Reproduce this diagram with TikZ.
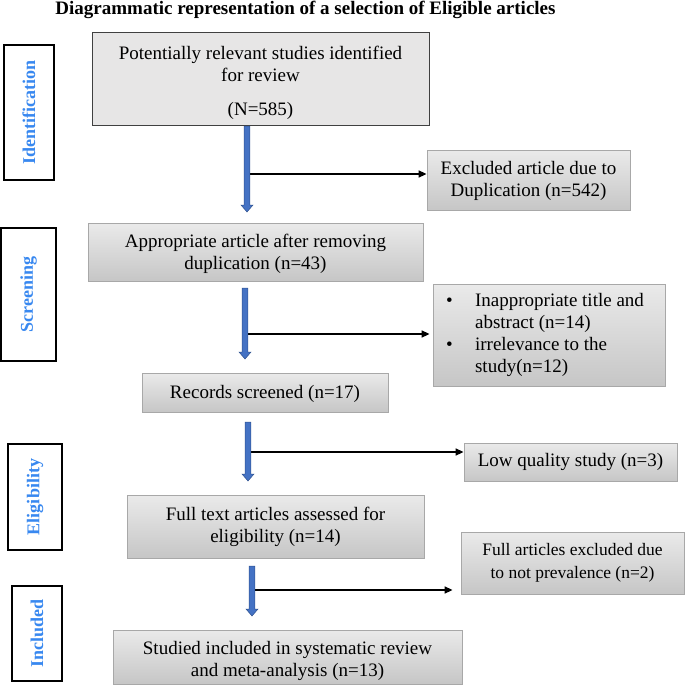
\documentclass[tikz,border=0pt]{standalone}
\usepackage{fontspec}
\setmainfont{Liberation Serif}
\usetikzlibrary{arrows.meta,calc}
\definecolor{boxtop}{RGB}{234,234,234}
\definecolor{boxbot}{RGB}{198,198,198}
\definecolor{boxedge}{RGB}{168,168,168}
\definecolor{topfill}{RGB}{231,230,230}
\definecolor{labelblue}{RGB}{56,136,240}
\definecolor{arrowblue}{RGB}{68,114,196}
\definecolor{arrowedge}{RGB}{47,82,143}
\newcommand\flowarrow[2]{\filldraw[fill=arrowblue,draw=arrowedge,line width=0.5pt]
  ($(#1)+(-2.8,0)$) -- ($(#2)+(-2.8,-7)$) -- ($(#2)+(-6,-7)$) -- (#2) --
  ($(#2)+(6,-7)$) -- ($(#2)+(2.8,-7)$) -- ($(#1)+(2.8,0)$) -- cycle;}
\tikzset{
  flowbox/.style={draw=boxedge, line width=0.8pt, top color=boxtop, bottom color=boxbot,
    inner sep=0pt, align=center, font=\fontsize{19}{22}\selectfont},
  topbox/.style={draw=black!75, line width=1pt, fill=topfill,
    inner sep=0pt, align=center, font=\fontsize{19}{22}\selectfont},
  sidebox/.style={draw=black, line width=1.5pt, fill=white, inner sep=0pt, rotate=90,
    text=labelblue, font=\bfseries\fontsize{18}{20}\selectfont},
  branch/.style={line width=1.5pt, -{Triangle[length=8pt,width=7pt]}}
}
\begin{document}
\begin{tikzpicture}[x=1pt,y=-1pt]
\useasboundingbox (0,0) rectangle (685,685);
% title
\node[font=\bfseries\fontsize{19}{22}\selectfont, anchor=base, inner sep=0pt] (title) at (305.5,14.5)
  {Diagrammatic representation of a selection of Eligible articles};
% side labels
\node[sidebox, minimum width=135pt, minimum height=50pt] (ident) at (29,112.5) {Identification};
\node[sidebox, minimum width=133pt, minimum height=55pt] (screen) at (28.5,294.5) {Screening};
\node[sidebox, minimum width=106pt, minimum height=54pt] (elig) at (35,497) {Eligibility};
\node[sidebox, minimum width=95pt, minimum height=50pt] (incl) at (37,633.5) {Included};
% main boxes
\node[topbox, minimum width=337pt, minimum height=92pt] (top) at (260.5,79)
  {\rule{0pt}{21pt}Potentially relevant studies identified\\for review\\[12pt](N=585)};
\node[flowbox, minimum width=203pt, minimum height=60pt] (excl) at (528.5,180)
  {\rule{0pt}{16pt}Excluded article due to\\Duplication (n=542)};
\node[flowbox, minimum width=335pt, minimum height=58pt] (app) at (255.5,252)
  {\rule{0pt}{17pt}Appropriate article after removing\\duplication (n=43)};
\node[flowbox, minimum width=232pt, minimum height=102pt] (bul) at (549,335)
  {\rule{0pt}{19pt}\begin{tabular}{@{}p{29pt}@{}l@{}}
   \textbullet & Inappropriate title and\\
               & abstract (n=14)\\
   \textbullet & irrelevance to the\\
               & study(n=12)
   \end{tabular}\hspace*{8pt}};
\node[flowbox, minimum width=246pt, minimum height=39pt] (rec) at (265,392.5)
  {\rule{0pt}{17pt}Records screened (n=17)};
\node[flowbox, minimum width=213pt, minimum height=38pt] (low) at (570.5,462)
  {Low quality study (n=3)};
\node[flowbox, minimum width=297pt, minimum height=63pt] (full) at (275.5,526.5)
  {Full text articles assessed for\\eligibility (n=14)};
\node[flowbox, minimum width=223pt, minimum height=62pt, font=\fontsize{17.5}{23}\selectfont] (fex) at (572.5,563)
  {Full articles excluded due\\to not prevalence (n=2)};
\node[flowbox, minimum width=349pt, minimum height=54pt] (stu) at (287.5,657)
  {\rule{0pt}{21pt}Studied included in systematic review\\and meta-analysis (n=13)};
% blue flow arrows
\coordinate (s1) at (247,126); \coordinate (e1) at (247,212);
\coordinate (s2) at (245,288); \coordinate (e2) at (245,359);
\coordinate (s3) at (248,422); \coordinate (e3) at (248,481);
\coordinate (s4) at (252,566); \coordinate (e4) at (252,616);
% branch start points
\coordinate (b1) at (245,174);
\coordinate (b2) at (248,334);
\coordinate (b3) at (248,452);
\coordinate (b4) at (252,590);
\draw[branch] (b1) -- (b1 -| excl.west);
\draw[branch, shorten >=3pt] (b2) -- (b2 -| bul.west);
\draw[branch] (b3) -- (b3 -| low.west);
\draw[branch, shorten >=8pt] (b4) -- (b4 -| fex.west);
\flowarrow{s1}{e1}
\flowarrow{s2}{e2}
\flowarrow{s3}{e3}
\flowarrow{s4}{e4}
\end{tikzpicture}
\end{document}
